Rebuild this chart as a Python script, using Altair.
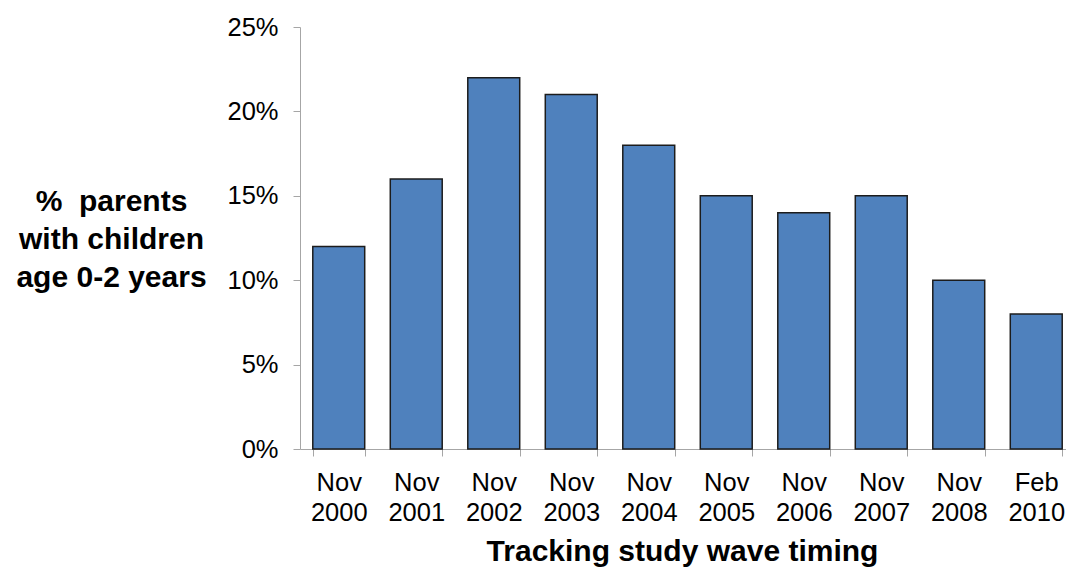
import altair as alt
import pandas as pd

# Survey waves and share of parents with children aged 0-2 (percent)
waves = ["Nov 2000", "Nov 2001", "Nov 2002", "Nov 2003", "Nov 2004",
         "Nov 2005", "Nov 2006", "Nov 2007", "Nov 2008", "Feb 2010"]
share_pct = [12, 16, 22, 21, 18, 15, 14, 15, 10, 8]
y_ticks = [0, 5, 10, 15, 20, 25]

df = pd.DataFrame({"wave": waves, "share": share_pct})

FONT = "Liberation Sans"
AXIS_GREY = "#a6a6a6"

bars = alt.Chart(df).mark_bar(
    color="#4F81BD",
    stroke="#1c1c1c",
    strokeWidth=1.5,
).encode(
    x=alt.X(
        "wave:N",
        sort=None,
        scale=alt.Scale(range=[0, 775], paddingInner=0.33, paddingOuter=0.165),
        axis=alt.Axis(
            title="Tracking study wave timing",
            titleFont=FONT,
            titleFontSize=30,
            titleFontWeight="bold",
            titleColor="#000000",
            titleX=382,
            titleY=111,
            titleAlign="center",
            titleBaseline="alphabetic",
            labelExpr="split(datum.label, ' ')",
            labelFont=FONT,
            labelFontSize=25.5,
            labelColor="#000000",
            labelLineHeight=30,
            labelAngle=0,
            labelPadding=14,
            labelBaseline="top",
            tickBand="extent",
            tickSize=7,
            tickColor=AXIS_GREY,
            domainColor=AXIS_GREY,
            grid=False,
        ),
    ),
    y=alt.Y(
        "share:Q",
        scale=alt.Scale(domain=[0, 25], nice=False),
        axis=alt.Axis(
            values=y_ticks,
            labelExpr="datum.value + '%'",
            title=["% \u00a0parents", "with children", "age 0-2 years"],
            titleFont=FONT,
            titleFontSize=30,
            titleFontWeight="bold",
            titleColor="#000000",
            titleAngle=0,
            titleAlign="center",
            titleBaseline="middle",
            titleLineHeight=38,
            titleX=-189,
            titleY=174,
            labelFont=FONT,
            labelFontSize=25.5,
            labelColor="#000000",
            labelPadding=15,
            tickSize=7,
            tickColor=AXIS_GREY,
            domainColor=AXIS_GREY,
            grid=False,
        ),
    ),
)

chart = bars.properties(
    width=766,
    height=422,
    autosize=alt.AutoSizeParams(type="none"),
    padding={"left": 300, "top": 27, "right": 0, "bottom": 118},
    background="white",
).configure_view(stroke=None)

chart.save("out.html", embed_options={"renderer": "svg", "actions": False})
